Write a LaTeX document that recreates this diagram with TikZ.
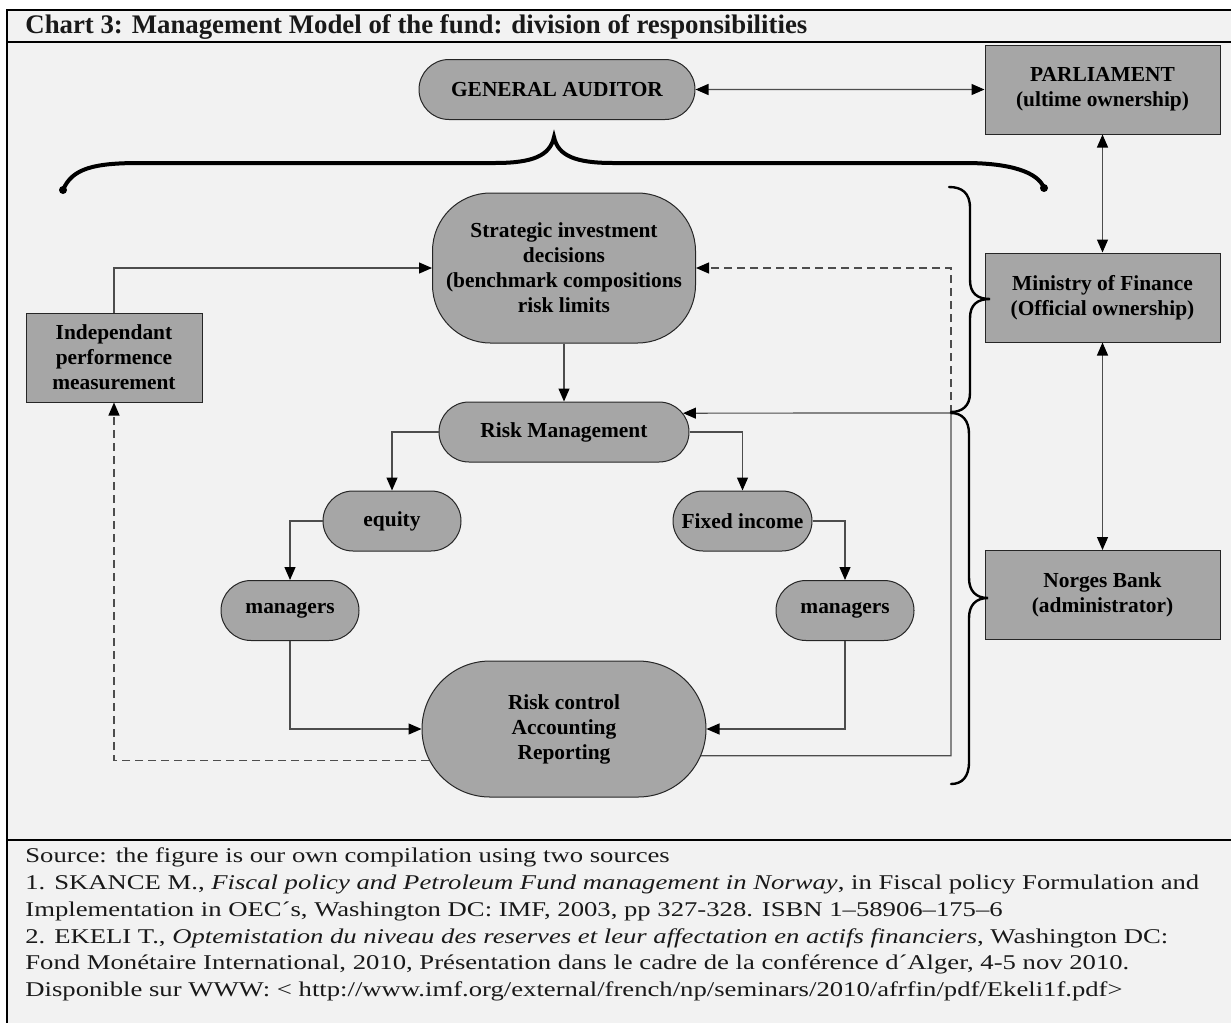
\documentclass[tikz,border=0pt]{standalone}
\usepackage{fontspec}
\setmainfont{Liberation Serif}
\newfontfamily\notefont[FakeStretch=1.27]{Liberation Serif}
\usetikzlibrary{arrows.meta,positioning,shapes.misc}
\definecolor{panel}{HTML}{F2F2F2}
\definecolor{boxgray}{HTML}{A6A6A6}
\definecolor{wire}{HTML}{4D4D4D}

\begin{document}
\begin{tikzpicture}[x=0.5pt,y=-0.5pt,>={Triangle[length=6.5pt,width=5.5pt,color=black]},
  lbl/.style={font=\fontsize{10.7}{12.5}\selectfont\bfseries,align=center,fill=boxgray,draw=black!85,line width=0.5pt,inner sep=2pt},
  box/.style={lbl,rectangle,minimum width=117.5pt,minimum height=44.5pt},
  pill/.style={lbl,rounded rectangle,minimum height=30pt},
  link/.style={draw=wire,line width=0.6pt},
  back/.style={link,dash pattern=on 4pt off 2.5pt},
  brace/.style={line width=1.2pt,line cap=round}]
\useasboundingbox (0,0) rectangle (1231,1023);
\fill[panel] (7,10) rectangle (1231,1023);
\draw[line width=1pt] (1231,10) -- (7,10) -- (7,1023);
\draw[line width=1pt] (7,42) -- (1231,42);
\draw[line width=1pt] (7,840) -- (1231,840);
\node[anchor=base west,inner sep=0pt,font=\fontsize{13.4}{15}\selectfont\bfseries,text=black!90] (title) at (25,33.5) {Chart 3: Management Model of the fund: division of responsibilities};

% owners
\node[pill,minimum width=142pt] (audit) at (557,89.5) {GENERAL AUDITOR};
\node[box] (parl) at (1102.5,89.5) {PARLIAMENT\\(ultime ownership)};
\node[box] (mof) at (1102.5,297.5) {Ministry of Finance\\(Official ownership)};
\node[box] (nb) at (1102.5,595) {Norges Bank\\(administrator)};

% fund management
\node[lbl,rectangle,rounded corners=29pt,minimum width=131.5pt,minimum height=75pt] (strat) at (564,268) {Strategic investment\\decisions\\(benchmark compositions\\risk limits};
\node[box,minimum width=88pt] (indep) at (114,357.5) {Independant\\performence\\measurement};
\node[pill,minimum width=129pt] (rm) at (564,432) {Risk Management};
\node[pill,minimum width=73pt] (eq) at (392,521) {equity};
\node[pill,minimum width=73.5pt] (fi) at (742.5,521) {Fixed income};
\node[pill,minimum width=73pt] (mgra) at (290,610.5) {managers};
\node[pill,minimum width=73pt] (mgrb) at (845,610.5) {managers};
\node[pill,minimum width=146pt,minimum height=68pt] (rc) at (564,729) {Risk control\\Accounting\\Reporting};
\coordinate (fb) at (951,413);

\draw[link,<->] (audit) -- (parl);
\draw[link,<->] (parl) -- (mof);
\draw[link,<->] (mof) -- (nb);
\draw[link,->] (indep.north) |- (strat.west);
\draw[link,->] (strat) -- (rm);
\draw[link,->] (rm.west) -| (eq.north);
\draw[link,->] (rm.east) -| (fi.north);
\draw[link,->] (eq.west) -| (mgra.north);
\draw[link,->] (fi.east) -| (mgrb.north);
\draw[link,->] (mgra.south) |- (rc.west);
\draw[link,->] (mgrb.south) |- (rc.east);
\draw[link,->] (rc.-11) -| (fb) -- (rm.9);
\draw[back,->] (fb) |- (strat.east);
\draw[back,->] (rc.193) -| (indep.south);

% braces
\draw[line width=2pt,line cap=round] (63,190) .. controls (72,168) and (95,163) .. (140,163) -- (495,163) .. controls (532,163) and (550,156) .. (554,137) .. controls (558,156) and (576,163) .. (613,163) -- (965,163) .. controls (1010,163) and (1038,172) .. (1044,188);
\fill (63,190) circle (2pt) (1044,188) circle (2pt);
\draw[brace] (949,187) .. controls (962,187) and (970,193) .. (970,208) -- (970,280) .. controls (970,293) and (977,299) .. (990,299) .. controls (977,299) and (970,305) .. (970,318) -- (970,393) .. controls (970,406) and (962,412) .. (951,412);
\draw[brace] (951,413) .. controls (962,413) and (969,420) .. (969,434) -- (969,578) .. controls (969,591) and (976,598) .. (988,598) .. controls (976,598) and (969,605) .. (969,618) -- (969,762) .. controls (969,777) and (962,784) .. (951,784);

% sources
\foreach \ln [count=\k from 0] in {
  {Source: the figure is our own compilation using two sources},
  {1. SKANCE M., \textit{Fiscal policy and Petroleum Fund management in Norway}, in Fiscal policy Formulation and},
  {Implementation in OEC´s, Washington DC: IMF, 2003, pp 327-328. ISBN 1–58906–175–6},
  {2. EKELI T., \textit{Optemistation du niveau des reserves et leur affectation en actifs financiers}, Washington DC:},
  {Fond Monétaire International, 2010, Présentation dans le cadre de la conférence d´Alger, 4-5 nov 2010.},
  {Disponible sur WWW: < http://www.imf.org/external/french/np/seminars/2010/afrfin/pdf/Ekeli1f.pdf>}}
  \node[anchor=base west,inner sep=0pt,font=\notefont\fontsize{10.5}{13.4}\selectfont,text=black!90] (src\k) at (25,{862.7+26.8*\k}) {\ln};
\end{tikzpicture}
\end{document}
